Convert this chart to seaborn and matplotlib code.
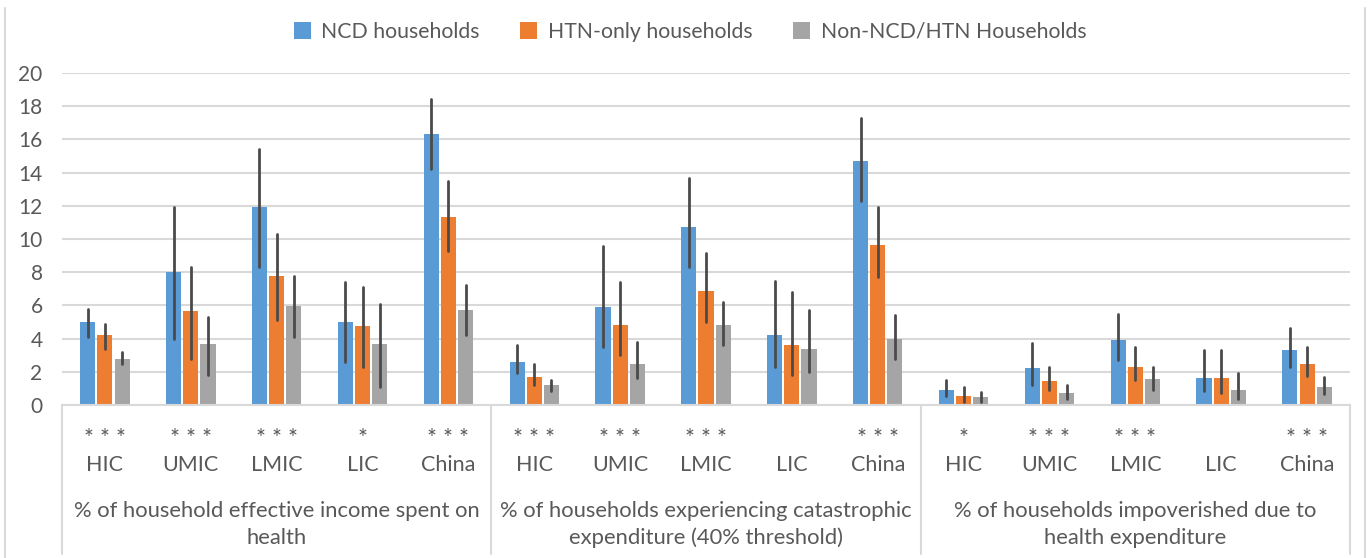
import numpy as np
import pandas as pd
import seaborn as sns
import matplotlib.pyplot as plt
from matplotlib.lines import Line2D

income_groups = ["HIC", "UMIC", "LMIC", "LIC", "China"]
measures = [
    "% of household effective income spent on\nhealth",
    "% of households experiencing catastrophic\nexpenditure (40% threshold)",
    "% of households impoverished due to\nhealth expenditure",
]
household_types = ["NCD households", "HTN-only households", "Non-NCD/HTN Households"]
colors = ["#5B9BD5", "#ED7D31", "#A5A5A5"]
significance = ["***", "***", "***", "*", "***",
                "***", "***", "***", "", "***",
                "*", "***", "***", "", "***"]

# values per slot: 3 measures x 5 income groups
ncd_values = [5.0, 8.0, 11.9, 5.0, 16.3, 2.6, 5.9, 10.7, 4.2, 14.7, 0.9, 2.2, 3.9, 1.65, 3.3]
ncd_low = [4.1, 4.0, 8.3, 2.6, 14.2, 1.9, 3.5, 8.3, 2.3, 12.3, 0.57, 1.2, 2.7, 0.85, 2.3]
ncd_high = [5.8, 11.95, 15.45, 7.4, 18.45, 3.6, 9.6, 13.65, 7.5, 17.3, 1.5, 3.75, 5.5, 3.3, 4.65]

htn_values = [4.2, 5.65, 7.75, 4.75, 11.35, 1.7, 4.8, 6.85, 3.6, 9.65, 0.53, 1.45, 2.3, 1.65, 2.45]
htn_low = [3.4, 2.8, 5.1, 2.3, 9.25, 1.2, 3.0, 5.0, 1.8, 7.7, 0.2, 0.93, 1.5, 0.75, 1.75]
htn_high = [4.9, 8.3, 10.3, 7.1, 13.5, 2.5, 7.4, 9.15, 6.8, 11.9, 1.1, 2.3, 3.5, 3.3, 3.5]

other_values = [2.8, 3.65, 5.95, 3.65, 5.75, 1.2, 2.5, 4.8, 3.4, 3.95, 0.5, 0.75, 1.55, 0.9, 1.1]
other_low = [2.5, 1.8, 4.1, 1.1, 4.2, 0.85, 1.65, 3.6, 2.0, 2.8, 0.2, 0.37, 0.93, 0.39, 0.65]
other_high = [3.2, 5.3, 7.8, 6.1, 7.25, 1.5, 3.8, 6.2, 5.7, 5.45, 0.77, 1.2, 2.3, 1.95, 1.7]

series = {
    "NCD households": (ncd_values, ncd_low, ncd_high),
    "HTN-only households": (htn_values, htn_low, htn_high),
    "Non-NCD/HTN Households": (other_values, other_low, other_high),
}

slots = [f"{m}|{g}" for m in range(len(measures)) for g in income_groups]

# three rows per bar (low, value, high): median gives the bar, full percentile range gives the error bar
rows = []
for hh, (vals, lows, highs) in series.items():
    for i, slot in enumerate(slots):
        for v in (lows[i], vals[i], highs[i]):
            rows.append({"slot": slot, "household": hh, "value": v})
df = pd.DataFrame(rows)

sns.set_style("white")
plt.rcParams["font.family"] = ["Lato", "DejaVu Sans"]
text_color = "#595959"
grid_color = "#D9D9D9"

fig = plt.figure(figsize=(13.7, 5.58), dpi=100)
ax = fig.add_axes([62 / 1370, 1 - 405 / 558, (1350 - 62) / 1370, (405 - 73) / 558])

sns.barplot(data=df, x="slot", y="value", hue="household", order=slots,
            hue_order=household_types, palette=colors, saturation=1,
            estimator="median", errorbar=("pi", 100), width=0.6, gap=0.12,
            err_kws={"color": "#4a4a4a", "linewidth": 2.0}, linewidth=0, ax=ax)

ax.set_ylim(0, 20)
ax.set_xlim(-0.5, len(slots) - 0.5)
ax.set_yticks(np.arange(0, 21, 2))
ax.yaxis.grid(True, color=grid_color, linewidth=1.5)
ax.set_axisbelow(True)
for s in ["left", "right", "top"]:
    ax.spines[s].set_visible(False)
ax.spines["bottom"].set_color(grid_color)
ax.spines["bottom"].set_linewidth(1.5)
ax.set_xlabel("")
ax.set_ylabel("")
ax.set_xticks(range(len(slots)), labels=income_groups * len(measures))
ax.tick_params(axis="x", length=0, pad=36, labelsize=15.5, labelcolor=text_color)
ax.tick_params(axis="y", length=0, pad=14, labelsize=15, labelcolor=text_color)

trans = ax.get_xaxis_transform()
for i, star in enumerate(significance):
    ax.text(i, -0.102, " ".join(star), transform=trans, ha="center", va="center",
            fontsize=17, color=text_color)
for m, label in enumerate(measures):
    ax.text(m * 5 + 2, -0.36, label, transform=trans, ha="center", va="center",
            fontsize=15.8, color=text_color, linespacing=1.4)
for x in [-0.5, 4.5, 9.5, 14.5]:
    ax.plot([x, x], [0, -0.45], transform=trans, clip_on=False,
            color=grid_color, linewidth=1.5)

sns.move_legend(ax, "center", bbox_to_anchor=((690 - 62) / 1288, (405 - 32) / 332),
                ncol=3, frameon=False, title=None, fontsize=15.3,
                handlelength=0.8, handleheight=0.8, columnspacing=1.9, handletextpad=0.5)
for t in ax.get_legend().get_texts():
    t.set_color(text_color)

for xf in [5 / 1370, 1365 / 1370]:
    fig.add_artist(Line2D([xf, xf], [0, 0.985], transform=fig.transFigure,
                          color=grid_color, linewidth=1.5))

fig.savefig("out.png", dpi=100)
